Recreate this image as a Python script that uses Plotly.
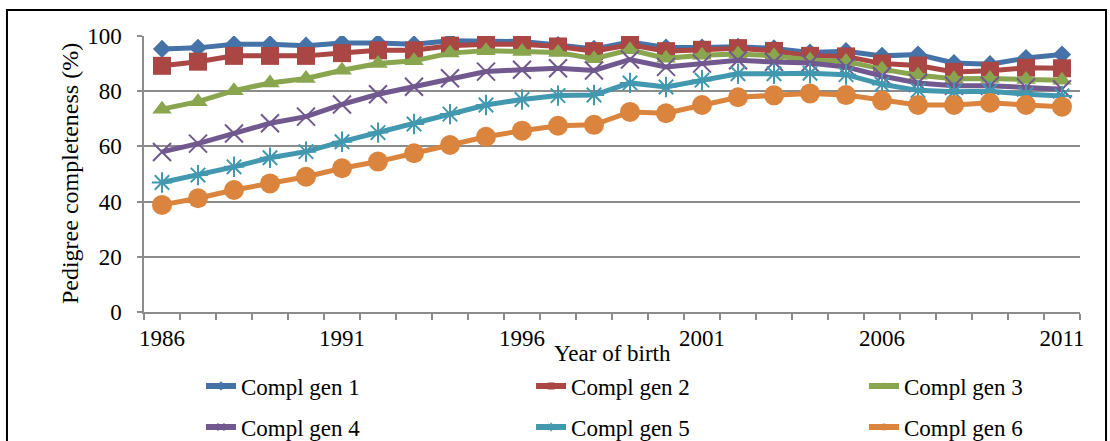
import plotly.graph_objects as go

years = list(range(1986, 2012))
tick_years = [1986, 1991, 1996, 2001, 2006, 2011]
y_ticks = [0, 20, 40, 60, 80, 100]

gen1 = [95.3, 95.7, 97.0, 97.0, 96.5, 97.5, 97.5, 97.0, 98.3, 98.3, 98.0, 96.7, 95.3,
        97.8, 95.8, 95.8, 96.1, 95.5, 94.0, 94.5, 92.8, 93.3, 90.2, 89.8, 92.0, 93.3]
gen2 = [89.2, 90.7, 92.8, 92.8, 92.8, 93.8, 94.8, 94.8, 96.5, 97.0, 97.0, 96.2, 94.5,
        96.8, 94.5, 95.0, 95.6, 94.6, 92.8, 92.6, 90.0, 89.3, 87.0, 87.4, 88.5, 88.3]
gen3 = [73.5, 76.2, 80.2, 83.0, 84.6, 87.6, 90.0, 91.0, 93.8, 94.7, 94.4, 94.0, 91.8,
        95.0, 91.9, 93.0, 93.5, 92.8, 91.3, 90.8, 88.0, 85.8, 84.5, 84.6, 84.2, 84.0]
gen4 = [58.0, 61.0, 64.7, 68.4, 70.8, 75.2, 78.9, 81.6, 84.7, 87.1, 87.8, 88.3, 87.5,
        91.5, 88.8, 90.0, 91.2, 90.6, 90.2, 88.8, 85.5, 83.0, 82.0, 82.0, 81.4, 80.7]
gen5 = [46.9, 49.6, 52.6, 55.9, 58.1, 61.7, 65.0, 68.1, 71.7, 75.0, 77.0, 78.4, 78.6,
        83.0, 81.5, 84.0, 86.3, 86.3, 86.5, 86.0, 82.5, 80.3, 79.8, 80.0, 78.9, 78.3]
gen6 = [38.8, 41.2, 44.2, 46.6, 49.0, 52.1, 54.5, 57.5, 60.5, 63.5, 65.7, 67.5, 67.8,
        72.5, 72.0, 75.0, 77.8, 78.5, 79.2, 78.6, 76.6, 75.0, 75.0, 75.8, 75.0, 74.4]

names = ["Compl gen 1", "Compl gen 2", "Compl gen 3", "Compl gen 4", "Compl gen 5", "Compl gen 6"]
series = [gen1, gen2, gen3, gen4, gen5, gen6]
colors = ["#4572A7", "#AA4643", "#89A54E", "#71588F", "#4198AF", "#DB843D"]
symbols = ["diamond", "square", "triangle-up", "x-thin-open", "asterisk-open", "circle"]
sizes = [14, 18, 17, 18, 17, 20]
open_sym = [False, False, False, True, True, False]

FONT = "Liberation Serif, Times New Roman, serif"
GRID = "#8c8c8c"

fig = go.Figure()
for i, (nm, ys) in enumerate(zip(names, series)):
    mk = dict(symbol=symbols[i], size=sizes[i], color=colors[i])
    if open_sym[i]:
        mk["line"] = dict(color=colors[i], width=2)
    fig.add_trace(go.Scatter(
        x=years, y=ys, mode="lines+markers", name=nm, showlegend=False,
        line=dict(color=colors[i], width=5), marker=mk, hoverinfo="x+y+name"))

# legend entries, one legend per entry so they sit in a 3x2 grid
legend_ids = ["legend", "legend2", "legend3", "legend4", "legend5", "legend6"]
for i, nm in enumerate(names):
    mk = dict(symbol=symbols[i], size=7, color=colors[i])
    if open_sym[i]:
        mk["line"] = dict(color=colors[i], width=1.5)
    fig.add_trace(go.Scatter(
        x=[None], y=[None], mode="lines+markers", name=nm, showlegend=True,
        legend=legend_ids[i],
        line=dict(color=colors[i], width=6), marker=mk))

col_x = [0.0609, 0.4135, 0.7692]
row_y = [-0.268, -0.4167]
legend_layout = {}
for i, lid in enumerate(legend_ids):
    legend_layout[lid] = dict(
        orientation="h", font=dict(family=FONT, size=23, color="black"),
        bgcolor="rgba(0,0,0,0)", xanchor="left", yanchor="middle",
        x=col_x[i % 3], y=row_y[i // 3])

fig.update_layout(
    width=1110, height=441,
    margin=dict(l=144, r=30, t=36, b=129, autoexpand=False),
    paper_bgcolor="white", plot_bgcolor="white",
    font=dict(family=FONT, size=23, color="black"),
    xaxis=dict(range=[1985.5, 2011.5], tickmode="array", tickvals=tick_years,
               ticktext=[str(t) for t in tick_years], ticks="", showgrid=False,
               showline=True, linecolor=GRID, linewidth=1.5, zeroline=False,
               ticklabelstandoff=5, automargin=False,
               tickfont=dict(family=FONT, size=23, color="black"),
               minor=dict(tickmode="linear", tick0=1985.5, dtick=1, ticks="outside",
                          ticklen=6, tickcolor=GRID, tickwidth=1.5, showgrid=False)),
    yaxis=dict(range=[0, 100], tickmode="array", tickvals=y_ticks, ticks="outside",
               ticklen=5, tickcolor=GRID, tickwidth=1.5, showgrid=True, gridcolor=GRID,
               gridwidth=1.5, showline=True, linecolor=GRID, linewidth=1.5,
               zeroline=False, ticklabelstandoff=11, automargin=False,
               tickfont=dict(family=FONT, size=23, color="black")),
    annotations=[
        dict(text="Year of birth", xref="paper", yref="paper", x=0.5, y=-0.1486,
             xanchor="center", yanchor="middle", showarrow=False,
             font=dict(family=FONT, size=23, color="black")),
        dict(text="Pedigree completeness (%)", xref="paper", yref="paper",
             x=-0.079, y=0.5, xanchor="center", yanchor="middle", textangle=-90,
             showarrow=False, font=dict(family=FONT, size=24, color="black")),
    ],
    shapes=[dict(type="rect", xref="paper", yref="paper", x0=-0.1464, x1=1.0278,
                 y0=-0.6, y1=1.0942, line=dict(color="black", width=2),
                 fillcolor="rgba(0,0,0,0)", layer="below")],
    **legend_layout,
)

fig.write_html("out.html")
